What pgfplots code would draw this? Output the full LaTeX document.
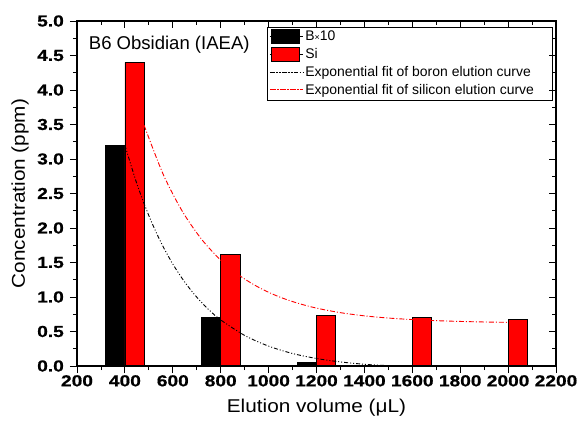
\documentclass[border=0pt]{standalone}
\usepackage{fontspec}
\setmainfont{Liberation Sans}
\newfontfamily\tickfont[FakeStretch=1.2, FakeBold=0.6, UprightFont={* Bold}]{Liberation Sans}
\newfontfamily\labelfont[FakeStretch=1.12]{Liberation Sans}
\usepackage{pgfplots}
\pgfplotsset{compat=1.18}
\begin{document}
\begin{tikzpicture}
\pgfplotsset{
  common/.style={
    scale only axis, width=479bp, height=345bp,
    xmin=200, xmax=2200, ymin=0, ymax=5,
    xtick={200,400,600,800,1000,1200,1400,1600,1800,2000,2200},
    ytick={0,0.5,1,1.5,2,2.5,3,3.5,4,4.5,5},
    minor x tick num=1, minor y tick num=1,
    major tick length=7bp, minor tick length=4bp,
    axis line style={line width=1.1pt},
    every tick/.style={line width=0.9pt, black},
  }
}
\begin{axis}[common, name=main,
  tick align=outside, xtick pos=bottom, ytick pos=left,
  /pgf/number format/assume math mode=true,
  ticklabel style={font=\fontsize{16}{17}\tickfont},
  xticklabel style={inner sep=1bp, yshift=-1bp, /pgf/number format/1000 sep={}},
  yticklabel style={inner sep=2bp, xshift=-4bp, /pgf/number format/.cd, fixed, fixed zerofill, precision=1},
  xlabel={Elution volume (μL)}, ylabel={Concentration (ppm)},
  every axis x label/.style={at={(axis description cs:0.5,0)}, yshift=-42bp, anchor=center,
    font=\fontsize{18.6}{21}\labelfont},
  every axis y label/.style={at={(axis description cs:0,0.5)}, xshift=-57bp, rotate=90, anchor=center,
    font=\fontsize{18.6}{21}\labelfont},
  legend style={at={(0.992,0.983)}, anchor=north east,
    font=\fontsize{14}{15}\selectfont, row sep=2.2bp, inner xsep=2bp, inner ysep=2bp,
    nodes={inner sep=2bp}},
  legend cell align=left,
]
\addplot[ybar, bar width=80, bar shift=0pt, fill=black, draw=black, line width=0.6pt,
  legend image code/.code={\path (-1bp,0) -- (32bp,0); \draw[fill=black,draw=black,line width=0.6pt] (0bp,-7bp) rectangle (28bp,7bp);}]
  coordinates {(360,3.2) (760,0.7) (1160,0.05)};
\addlegendentry{B{\fontsize{9}{10}\selectfont ×}10}
\addplot[ybar, bar width=80, bar shift=0pt, fill=red, draw=black, line width=0.6pt,
  legend image code/.code={\path (-1bp,0) -- (32bp,0); \draw[fill=red,draw=black,line width=0.6pt] (0bp,-7bp) rectangle (28bp,7bp);}]
  coordinates {(440,4.4) (840,1.62) (1240,0.73) (1640,0.71) (2040,0.67)};
\addlegendentry{Si}
\addplot[black, line width=0.9pt, dash pattern=on 4pt off 2pt on 1pt off 2pt on 1pt off 2pt, smooth,
  legend image code/.code={\path (-1bp,0) -- (32bp,0); \draw[draw=black, line width=0.9pt, dash pattern=on 4pt off 2pt on 1pt off 2pt on 1pt off 2pt] (0bp,0bp) -- (27bp,0bp);}]
  coordinates {(400,3.2) (450,2.641) (500,2.179) (550,1.795) (600,1.478) (650,1.215) (700,0.998) (750,0.817) (800,0.668) (900,0.443) (1000,0.288) (1100,0.181) (1200,0.109) (1300,0.059) (1400,0.025) (1500,0.005) (1580,0.0)};
\addlegendentry{Exponential fit of boron elution curve}
\addplot[red, line width=0.9pt, dash pattern=on 5pt off 2pt on 1pt off 2pt, smooth,
  legend image code/.code={\path (-1bp,0) -- (32bp,0); \draw[draw=red, line width=0.9pt, dash pattern=on 5pt off 2pt on 1pt off 2pt] (0bp,0bp) -- (27bp,0bp);}]
  coordinates {(480,3.49) (560,2.777) (640,2.241) (720,1.838) (800,1.535) (880,1.308) (960,1.137) (1040,1.008) (1120,0.912) (1200,0.839) (1300,0.773) (1400,0.727) (1500,0.695) (1600,0.673) (1700,0.657) (1800,0.646) (1900,0.638) (2000,0.633)};
\addlegendentry{Exponential fit of silicon elution curve\hspace*{14bp}}
\node[anchor=west, font=\fontsize{18.6}{20}\selectfont] at (axis cs:235,4.65) {B6 Obsidian (IAEA)};
\end{axis}
\begin{axis}[common, tick align=inside, xtick pos=top, ytick pos=right,
  xticklabels={}, yticklabels={}]
\end{axis}
\pgfresetboundingbox
\path ([shift={(-77bp,-63bp)}]main.south west) rectangle ([shift={(21bp,21bp)}]main.north east);
\end{tikzpicture}
\end{document}
